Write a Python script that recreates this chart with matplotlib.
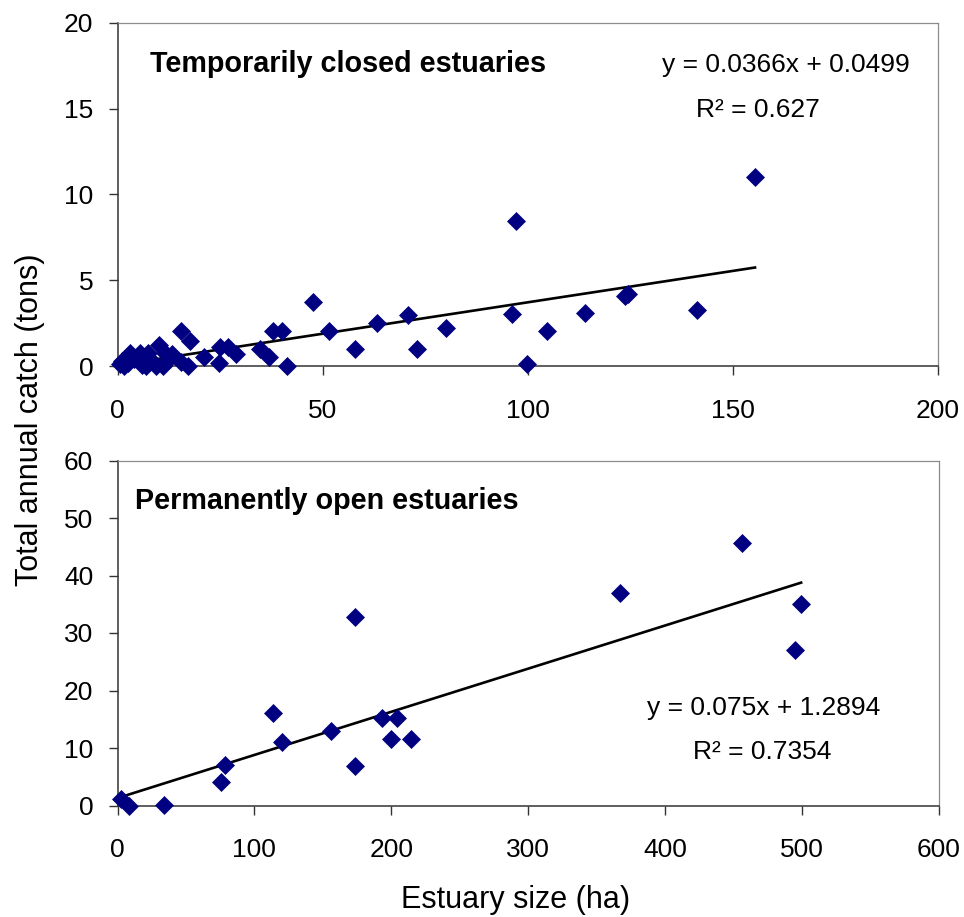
import matplotlib
matplotlib.use("Agg")
import matplotlib.pyplot as plt
import numpy as np

plt.rcParams['font.family'] = ['Liberation Sans', 'DejaVu Sans']

# Temporarily closed estuaries: size (ha) vs total annual catch (tons)
closed_size = [0.5, 1.0, 1.5, 2.5, 3.0, 4.0, 5.5, 6.0, 7.0, 7.5, 8.5, 9.5,
               10.2, 11.0, 11.7, 12.5, 13.3, 15.4, 15.6, 17.1, 17.6, 21.1,
               24.7, 25.0, 26.9, 29.0, 34.7, 36.9, 38.0, 40.2, 41.4,
               47.7, 51.5, 58.0, 63.3, 70.8, 72.9, 80.0, 96.1, 97.2, 99.9,
               104.7, 113.9, 123.6, 124.4, 141.2, 155.4]
closed_catch = [0.1, 0.3, 0.0, 0.15, 0.75, 0.4, 0.75, 0.05, 0.0, 0.75, 0.3, 0.0,
                1.25, 0.0, 0.75, 0.4, 0.7, 0.25, 2.05, 0.0, 1.45, 0.5,
                0.15, 1.1, 1.1, 0.7, 1.0, 0.55, 2.05, 2.05, 0.0,
                3.7, 2.05, 1.0, 2.5, 2.95, 1.0, 2.2, 3.05, 8.45, 0.1,
                2.05, 3.1, 4.1, 4.2, 3.25, 11.0]
closed_fit = (0.0366, 0.0499)
closed_r2 = "0.627"

# Permanently open estuaries
open_size = [2.7, 8.3, 33.9, 75.4, 78.5, 113.9, 120.5, 155.9, 173.4, 173.4,
             193.1, 199.7, 204.6, 214.3, 367.5, 456.3, 499.6, 494.8]
open_catch = [1.16, 0.0, 0.05, 4.1, 7.0, 16.1, 11.1, 12.9, 32.8, 6.8,
              15.2, 11.6, 15.2, 11.6, 36.9, 45.7, 35.0, 27.0]
open_fit = (0.075, 1.2894)
open_r2 = "0.7354"

W, H = 964, 917
fig = plt.figure(figsize=(W / 100, H / 100), dpi=100)


def px_axes(left, top, right, bottom):
    return fig.add_axes([left / W, (H - bottom) / H, (right - left) / W, (bottom - top) / H])


def style(ax):
    for s in ('top', 'right'):
        ax.spines[s].set_color('#8c8c8c')
        ax.spines[s].set_linewidth(0.9)
    for s in ('left', 'bottom'):
        ax.spines[s].set_color('#333333')
        ax.spines[s].set_linewidth(1.1)
    ax.tick_params(direction='out', length=6.5, width=1, colors='#333333',
                   labelcolor='black', labelsize=19)
    ax.tick_params(axis='x', pad=17)
    ax.tick_params(axis='y', pad=11)


def panel(ax, xs, ys, fit, xlim, ylim, xticks, yticks):
    slope, icpt = fit
    xf = np.array([0.0 if min(xs) < 1 else min(xs), max(xs)])
    ax.plot(xf, slope * xf + icpt, color='black', lw=1.9, zorder=2)
    ax.plot(xs, ys, linestyle='none', marker='D', ms=9.0, color='#000080',
            mec='#000080', mew=0.5, clip_on=False, zorder=3)
    ax.set_xlim(*xlim)
    ax.set_ylim(*ylim)
    ax.set_xticks(xticks)
    ax.set_yticks(yticks)
    style(ax)


ax1 = px_axes(117.5, 22.7, 938, 366)
panel(ax1, closed_size, closed_catch, closed_fit, (0, 200), (0, 20),
      [0, 50, 100, 150, 200], [0, 5, 10, 15, 20])

ax2 = px_axes(117.5, 460.5, 938.5, 805.5)
panel(ax2, open_size, open_catch, open_fit, (0, 600), (0, 60),
      [0, 100, 200, 300, 400, 500, 600], [0, 10, 20, 30, 40, 50, 60])


def ftext(x, y, s, **kw):
    fig.text(x / W, (H - y) / H, s, **kw)


ftext(150, 72, "Temporarily closed estuaries", fontsize=20.7, fontweight='bold',
      ha='left', va='baseline')
ftext(662, 72, f"y = {closed_fit[0]}x + {closed_fit[1]}", fontsize=19,
      ha='left', va='baseline')
ftext(696, 117, f"R\u00b2 = {closed_r2}", fontsize=19, ha='left', va='baseline')

ftext(135, 509, "Permanently open estuaries", fontsize=20.7, fontweight='bold',
      ha='left', va='baseline')
ftext(647, 715, f"y = {open_fit[0]}x + {open_fit[1]}", fontsize=19,
      ha='left', va='baseline')
ftext(693, 759, f"R\u00b2 = {open_r2}", fontsize=19, ha='left', va='baseline')

ftext(30, 420, "Total annual catch (tons)", fontsize=22, rotation=90,
      ha='center', va='center')
ftext(516, 900, "Estuary size (ha)", fontsize=22, ha='center', va='center')

fig.savefig("out.png", dpi=100)
